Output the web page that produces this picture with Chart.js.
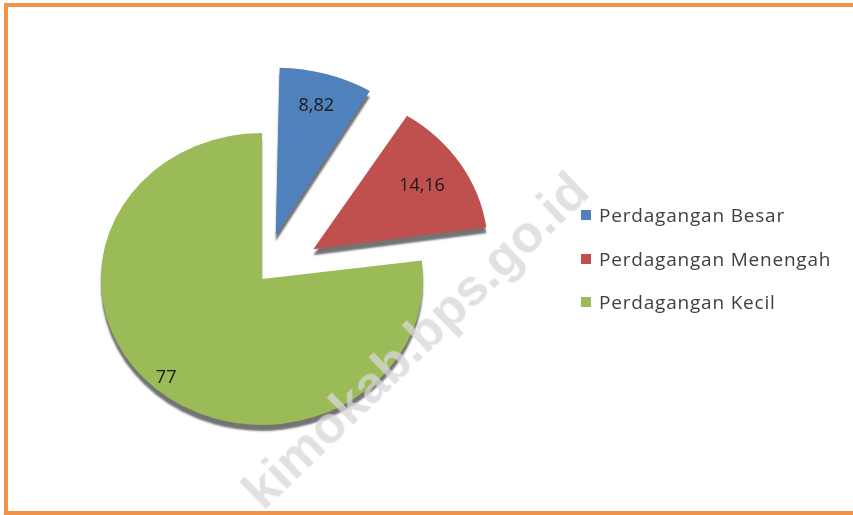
<!DOCTYPE html>
<html>
<head>
<meta charset="utf-8">
<script src="https://cdn.jsdelivr.net/npm/chart.js@4/dist/chart.umd.min.js"></script>
<style>
  html, body { margin: 0; padding: 0; background: #fff; overflow: hidden; }
  #wrap { position: relative; width: 853px; height: 515px; }
  #frame {
    position: absolute; left: 4px; top: 3px; width: 870px; height: 504px;
    border: 4px solid #f4924a; box-sizing: content-box;
  }
  #chart { position: absolute; left: 0; top: 0; }
  #legend { position: absolute; left: 581px; top: 202px; font-family: "Open Sans", sans-serif; font-size: 19px; letter-spacing: 0.8px; color: #404040; }
  #legend div { height: 43.5px; display: flex; align-items: flex-start; }
  #legend span.box { display: inline-block; width: 10px; height: 10px; margin: 8px 8px 0 0; }
  #wm {
    position: absolute; left: 415px; top: 340px; transform: translate(-50%, -50%) rotate(-44deg);
    font-family: "Liberation Sans", Arial, sans-serif; font-weight: bold; font-size: 52px;
    color: rgba(215, 215, 215, 0.75); white-space: nowrap; pointer-events: none;
  }
</style>
</head>
<body>
<div id="wrap">
  <div id="frame"></div>
  <canvas id="chart" width="853" height="515"></canvas>
  <div id="legend"></div>
  <div id="wm">kimokab.bps.go.id</div>
</div>
<script>
const labels = ['Perdagangan Besar', 'Perdagangan Menengah', 'Perdagangan Kecil'];
const values = [8.82, 14.16, 77];
const valueText = ['8,82', '14,16', '77'];
const colors = ['#4f81bd', '#c0504d', '#9bbb59'];
const explode = [190, 230, 0];   // chart.js menggeser potongan sebesar offset/4

const SX = 1.06, SY = 0.96;      // kesan perspektif (elips)
const labelRadius = [0.8, 0.74, 0.9];

// miringkan pie sedikit + efek tebal di bawah potongan
const tilt = {
  id: 'tilt',
  beforeDatasetDraw(chart) {
    const ctx = chart.ctx;
    const el = chart.getDatasetMeta(0).data[0];
    ctx.save();
    ctx.translate(el.x, el.y);
    ctx.scale(SX, SY);
    ctx.translate(-el.x, -el.y);
    ctx.shadowColor = 'rgba(0,0,0,0.55)';
    ctx.shadowOffsetY = 6;
    ctx.shadowBlur = 2;
  },
  afterDatasetDraw(chart) {
    chart.ctx.restore();
  }
};

// angka di dalam potongan
const sliceLabels = {
  id: 'sliceLabels',
  afterDatasetsDraw(chart) {
    const ctx = chart.ctx;
    const meta = chart.getDatasetMeta(0);
    ctx.save();
    ctx.font = '18px "Open Sans", sans-serif';
    ctx.fillStyle = '#1a1a1a';
    ctx.textAlign = 'center';
    ctx.textBaseline = 'middle';
    meta.data.forEach((el, i) => {
      const { x, y, startAngle, endAngle, outerRadius } = el.getProps(['x', 'y', 'startAngle', 'endAngle', 'outerRadius'], true);
      const mid = (startAngle + endAngle) / 2;
      const off = (el.options.offset || 0) / 4;
      const grow = off * (1 - Math.sin(Math.min(Math.PI, endAngle - startAngle)));
      const r = off + (outerRadius + grow) * labelRadius[i];
      ctx.fillText(valueText[i], x + Math.cos(mid) * r * SX, y + Math.sin(mid) * r * SY);
    });
    ctx.restore();
  }
};

const ctx = document.getElementById('chart').getContext('2d');
new Chart(ctx, {
  type: 'pie',
  data: {
    labels: labels,
    datasets: [{
      data: values,
      backgroundColor: colors,
      borderWidth: 0,
      offset: explode,
      radius: 152
    }]
  },
  options: {
    responsive: false,
    animation: false,
    layout: { padding: { left: 79, top: 95, right: 408, bottom: 52 } },
    plugins: {
      legend: { display: false },
      tooltip: { enabled: false }
    }
  },
  plugins: [tilt, sliceLabels]
});

const legend = document.getElementById('legend');
labels.forEach((name, i) => {
  const row = document.createElement('div');
  row.innerHTML = '<span class="box" style="background:' + colors[i] + '"></span>' + name;
  legend.appendChild(row);
});
</script>
</body>
</html>
